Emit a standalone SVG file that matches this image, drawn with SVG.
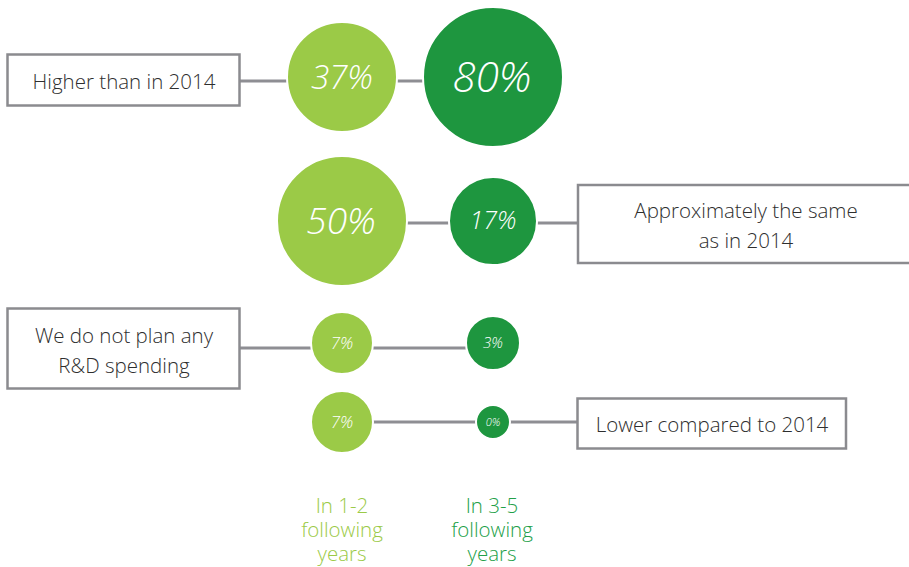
<svg xmlns="http://www.w3.org/2000/svg" width="909" height="567" viewBox="0 0 909 567">
<style>
.box{fill:#fff;stroke:#8b8b8f;stroke-width:2.5}
.lbl{font-family:"Open Sans","Liberation Sans",sans-serif;font-size:20.5px;font-weight:350;fill:#2e2e2e;text-anchor:middle}
.pct{font-family:"Open Sans","Liberation Sans",sans-serif;font-style:italic;font-weight:300;fill:#fff;text-anchor:middle}
.lg{fill:#9bca47;stroke:#fff;stroke-width:2}
.dg{fill:#1e963f;stroke:#fff;stroke-width:2}
.conn line{stroke:#8e8e93;stroke-width:3}
.axl{font-family:"Open Sans","Liberation Sans",sans-serif;font-size:20.5px;font-weight:350;text-anchor:middle}
</style>
<rect width="909" height="567" fill="#fff"/>
<g class="conn" id="connectors">
<line x1="240" y1="81" x2="288" y2="81"/>
<line x1="396" y1="81" x2="424" y2="81"/>
<line x1="406" y1="223" x2="449" y2="223"/>
<line x1="537" y1="223" x2="578" y2="223"/>
<line x1="239" y1="348" x2="312" y2="348"/>
<line x1="373" y1="348" x2="467" y2="348"/>
<line x1="373" y1="422" x2="476" y2="422"/>
<line x1="510" y1="422" x2="578" y2="422"/>
</g>
<g id="box-higher">
<rect class="box" x="7.5" y="54.5" width="232" height="51"/>
<text class="lbl" x="124" y="89">Higher than in 2014</text>
</g>
<g id="box-same">
<rect class="box" x="578" y="185" width="340" height="78"/>
<text class="lbl" x="746" y="218">Approximately the same</text>
<text class="lbl" x="746" y="248">as in 2014</text>
</g>
<g id="box-noplan">
<rect class="box" x="7.5" y="308.5" width="232" height="80"/>
<text class="lbl" x="124" y="343">We do not plan any</text>
<text class="lbl" x="124" y="373">R&amp;D spending</text>
</g>
<g id="box-lower">
<rect class="box" x="577.5" y="398.5" width="268.5" height="50"/>
<text class="lbl" x="712" y="432">Lower compared to 2014</text>
</g>
<g id="c37">
<circle class="lg" cx="342" cy="77" r="55"/>
<text class="pct" x="342" y="89" font-size="33">37%</text>
</g>
<g id="c80">
<circle class="dg" cx="493" cy="77" r="70"/>
<text class="pct" x="492" y="92" font-size="42">80%</text>
</g>
<g id="c50">
<circle class="lg" cx="342" cy="221" r="65"/>
<text class="pct" x="341" y="234" font-size="37">50%</text>
</g>
<g id="c17">
<circle class="dg" cx="493" cy="221" r="44"/>
<text class="pct" x="493" y="229" font-size="25">17%</text>
</g>
<g id="c7a">
<circle class="lg" cx="342" cy="343" r="31"/>
<text class="pct" x="342" y="349" font-size="17">7%</text>
</g>
<g id="c3">
<circle class="dg" cx="493" cy="343" r="27"/>
<text class="pct" x="493" y="348" font-size="15">3%</text>
</g>
<g id="c7b">
<circle class="lg" cx="342" cy="422" r="31"/>
<text class="pct" x="342" y="428" font-size="17">7%</text>
</g>
<g id="c0">
<circle class="dg" cx="493" cy="422" r="17"/>
<text class="pct" x="493" y="426" font-size="11">0%</text>
</g>
<g id="legend-12">
<text class="axl" fill="#9bca47" x="342" y="513">In 1-2</text>
<text class="axl" fill="#9bca47" x="342" y="537">following</text>
<text class="axl" fill="#9bca47" x="342" y="561">years</text>
</g>
<g id="legend-35">
<text class="axl" fill="#22a048" x="492" y="513">In 3-5</text>
<text class="axl" fill="#22a048" x="492" y="537">following</text>
<text class="axl" fill="#22a048" x="492" y="561">years</text>
</g>
</svg>
